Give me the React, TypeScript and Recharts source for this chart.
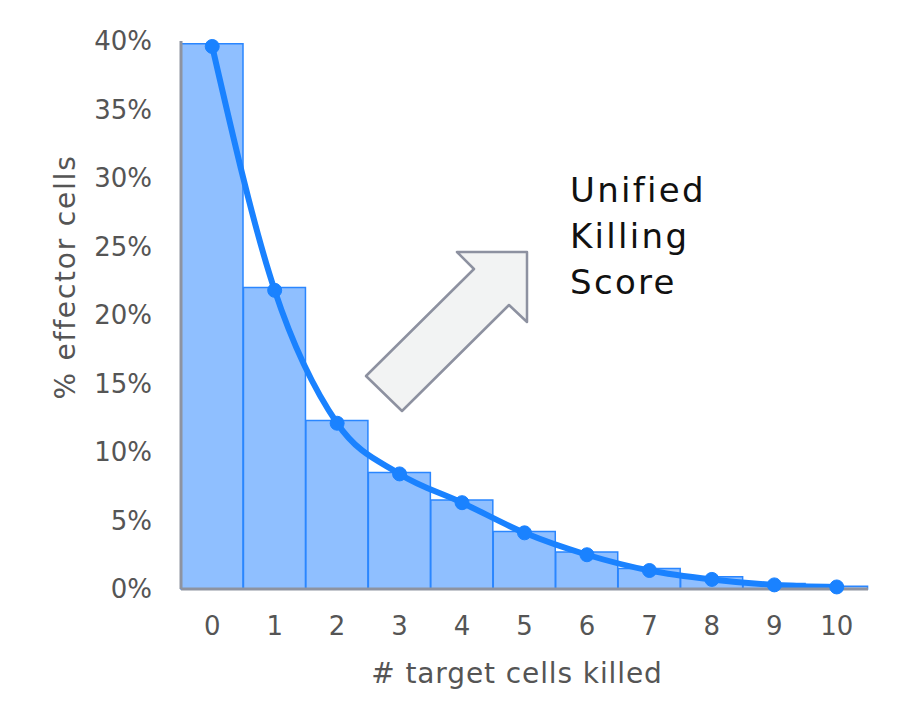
import React from 'react';
import { ComposedChart, Bar, Line, XAxis, YAxis, Customized } from 'recharts';

const categories = ['0', '1', '2', '3', '4', '5', '6', '7', '8', '9', '10'];
const barValues = [39.8, 22.0, 12.3, 8.5, 6.5, 4.2, 2.7, 1.5, 0.9, 0.4, 0.2];
const lineValues = [39.6, 21.8, 12.1, 8.4, 6.3, 4.1, 2.5, 1.35, 0.7, 0.3, 0.15];
const yTicks = [0, 5, 10, 15, 20, 25, 30, 35, 40];
const annotationLines = ['Unified', 'Killing', 'Score'];

const data = categories.map((c, i) => ({ k: c, bar: barValues[i], line: lineValues[i] }));

const FONT = '"DejaVu Sans", sans-serif';
const AXIS = '#8e93a0';
const TEXT = '#555555';

const Overlay = () => (
  <g>
    <polygon
      points="457,252 527,252 527,322 509,305 402,411 366,376 474,269"
      fill="#f2f3f3"
      stroke="#8d91a0"
      strokeWidth={2.5}
      strokeLinejoin="round"
    />
    {annotationLines.map((t, i) => (
      <text key={t} x={570} y={202 + i * 46} fontSize={34} letterSpacing={2.3} fontFamily={FONT} fill="#111">
        {t}
      </text>
    ))}
    <text
      x={0}
      y={0}
      transform="translate(75,277) rotate(-90)"
      textAnchor="middle"
      fontSize={28}
      letterSpacing={1.8}
      fontFamily={FONT}
      fill={TEXT}
    >
      % effector cells
    </text>
    <text x={517} y={683} textAnchor="middle" fontSize={28} letterSpacing={0.9} fontFamily={FONT} fill={TEXT}>
      # target cells killed
    </text>
  </g>
);

export default function App() {
  return (
    <div style={{ margin: '-8px', width: 900, height: 727 }}>
      <ComposedChart
        width={900}
        height={727}
        data={data}
        margin={{ top: 41, right: 32, bottom: 78, left: 0 }}
        barCategoryGap={0}
        barGap={0}
      >
        <XAxis
          dataKey="k"
          height={60}
          tickLine={false}
          tickSize={0}
          tickMargin={28}
          axisLine={{ stroke: AXIS, strokeWidth: 3 }}
          tick={{ fill: TEXT, fontSize: 26, fontFamily: FONT }}
        />
        <YAxis
          width={181}
          domain={[0, 40]}
          ticks={yTicks}
          tickFormatter={(v: number) => `${v}%`}
          tickLine={false}
          tickSize={0}
          tickMargin={29}
          axisLine={{ stroke: AXIS, strokeWidth: 3 }}
          tick={{ fill: TEXT, fontSize: 26, fontFamily: FONT }}
        />
        <Bar
          dataKey="bar"
          fill="#8fbfff"
          stroke="#2a86ff"
          strokeWidth={1.5}
          isAnimationActive={false}
        />
        <Line
          dataKey="line"
          type="monotone"
          stroke="#1a82ff"
          strokeWidth={6}
          dot={{ r: 7, fill: '#1a82ff', stroke: '#1a82ff', strokeWidth: 1 }}
          activeDot={false}
          isAnimationActive={false}
        />
        <Customized component={Overlay} />
      </ComposedChart>
    </div>
  );
}
